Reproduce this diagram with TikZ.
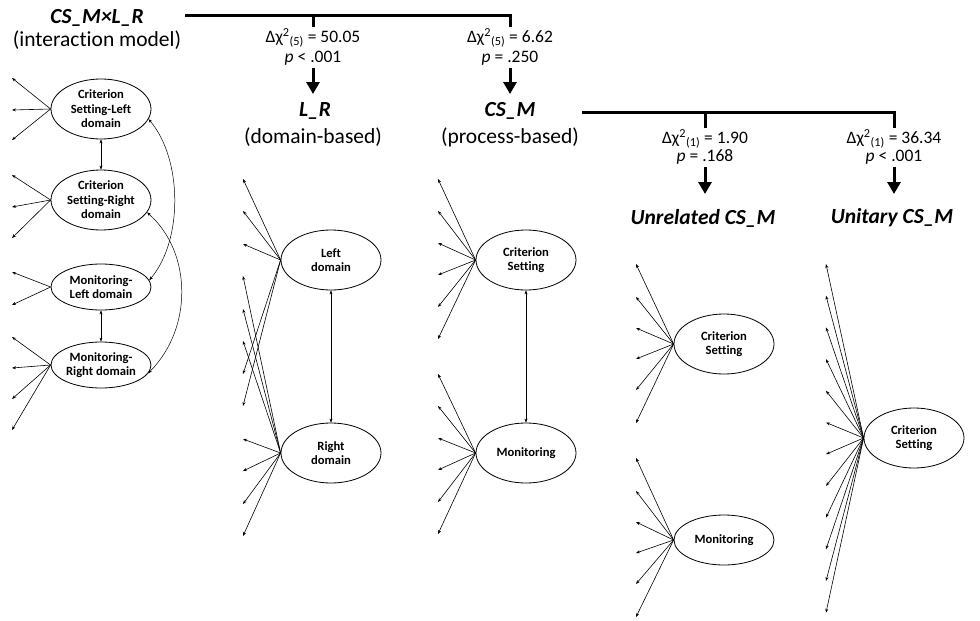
\documentclass[tikz,border=0pt]{standalone}
\usepackage{fontspec}
\setmainfont{Carlito}[Ligatures=NoCommon]
\usetikzlibrary{arrows.meta, positioning, shapes.geometric}

\begin{document}
\begin{tikzpicture}[
    x=1pt, y=-1pt,
    latent/.style={draw, ellipse, line width=0.8pt, minimum width=100pt,
                   minimum height=60pt, inner sep=-1pt, align=center,
                   font=\fontsize{12.6}{14.5}\selectfont\bfseries},
    indicator/.style={-{Stealth[length=4pt, width=3pt]}, line width=0.6pt},
    cov/.style={{Stealth[length=4pt, width=3pt]}-{Stealth[length=4pt, width=3pt]},
                line width=0.5pt},
    bar/.style={line width=3pt, line join=miter},
    arrow/.style={-{Triangle[length=12pt, width=13pt]}, line width=3pt},
    model/.style={font=\fontsize{21.5}{24}\selectfont\bfseries\itshape},
    modelsub/.style={font=\fontsize{21.5}{24}\selectfont},
    stat/.style={font=\fontsize{17.5}{20}\selectfont, inner sep=0pt},
  ]
    \useasboundingbox (0,0) rectangle (980,621);

    % Interaction model
    \node[model] (int) at (97,18) {CS\_M×L\_R};
    \node[modelsub] (intsub) at (97,40) {(interaction model)};

    \node[latent] (csl) at (101,109) {Criterion\\Setting-Left\\domain};
    \node[latent] (csr) at (101,200) {Criterion\\Setting-Right\\domain};
    \node[latent, minimum height=46pt] (ml) at (101,287) {Monitoring-\\Left domain};
    \node[latent, minimum height=46pt] (mr) at (101,365) {Monitoring-\\Right domain};

    \foreach \y [count=\i] in {78,110,140} {
      \coordinate (csl-\i) at (12,\y);
      \draw[indicator] (csl.west) -- (csl-\i);
    }
    \foreach \y [count=\i] in {175,207,238} {
      \coordinate (csr-\i) at (12,\y);
      \draw[indicator] (csr.west) -- (csr-\i);
    }
    \foreach \y [count=\i] in {272,305} {
      \coordinate (ml-\i) at (12,\y);
      \draw[indicator] (ml.west) -- (ml-\i);
    }
    \foreach \y [count=\i] in {337,368,399,430} {
      \coordinate (mr-\i) at (12,\y);
      \draw[indicator] (mr.west) -- (mr-\i);
    }

    \draw[cov] (csl.south) -- (csr.north);
    \draw[cov] (ml.south) -- (mr.north);
    \draw[cov] (csl.-12) .. controls +(34,40) and +(34,-40) .. (ml.8);
    \draw[cov] (csr.-15) .. controls +(45,40) and +(45,-45) .. (mr.-10);

    % First comparison
    \coordinate (b1s) at (185,15);
    \coordinate (b1m) at (313,15);
    \coordinate (b1e) at (510,15);
    \coordinate (t1a) at (313,27);
    \coordinate (t1b) at (510,27);
    \draw[bar] (b1s) -- (b1e) -- (t1b);
    \draw[bar] (b1m) -- (t1a);

    \node[stat] (d1) at (313,38) {Δχ\textsuperscript{2}\textsubscript{(5)} = 50.05};
    \node[stat] (p1) at (313,58) {\textit{p} < .001};
    \node[stat] (d2) at (510,38) {Δχ\textsuperscript{2}\textsubscript{(5)} = 6.62};
    \node[stat] (p2) at (510,58) {\textit{p} = .250};

    \coordinate (a1s) at (313,68);
    \coordinate (a1e) at (313,94);
    \coordinate (a2s) at (510,68);
    \coordinate (a2e) at (510,94);
    \draw[arrow] (a1s) -- (a1e);
    \draw[arrow] (a2s) -- (a2e);

    % L_R model
    \node[model] (lr) at (315,111) {L\_R};
    \node[modelsub] (lrsub) at (313,137) {(domain-based)};

    \node[latent] (left) at (331,260) {Left\\domain};
    \node[latent] (right) at (331,453) {Right\\domain};
    \foreach \y [count=\i] in {179,211,244,374,406} {
      \coordinate (left-\i) at (243,\y);
      \draw[indicator] (left.west) -- (left-\i);
    }
    \foreach \y [count=\i] in {276,309,341,439,471,504,536} {
      \coordinate (right-\i) at (243,\y);
      \draw[indicator] (right.west) -- (right-\i);
    }
    \draw[cov] (left.south) -- (right.north);

    % CS_M model
    \node[model] (csm) at (510,111) {CS\_M};
    \node[modelsub] (csmsub) at (510,137) {(process-based)};

    \node[latent] (cs) at (526,260) {Criterion\\Setting};
    \node[latent] (mon) at (526,453) {Monitoring};
    \foreach \y [count=\i] in {179,211,243,275,307,339} {
      \coordinate (cs-\i) at (438,\y);
      \draw[indicator] (cs.west) -- (cs-\i);
    }
    \foreach \y [count=\i] in {374,406,438,470,502,534} {
      \coordinate (mon-\i) at (438,\y);
      \draw[indicator] (mon.west) -- (mon-\i);
    }
    \draw[cov] (cs.south) -- (mon.north);

    % Second comparison
    \coordinate (b2s) at (582,112);
    \coordinate (b2m) at (705,112);
    \coordinate (b2e) at (894,112);
    \coordinate (t2a) at (705,128);
    \coordinate (t2b) at (894,128);
    \draw[bar] (b2s) -- (b2e) -- (t2b);
    \draw[bar] (b2m) -- (t2a);

    \node[stat] (d3) at (705,139) {Δχ\textsuperscript{2}\textsubscript{(1)} = 1.90};
    \node[stat] (p3) at (705,157) {\textit{p} = .168};
    \node[stat] (d4) at (894,139) {Δχ\textsuperscript{2}\textsubscript{(1)} = 36.34};
    \node[stat] (p4) at (894,157) {\textit{p} < .001};

    \coordinate (a3s) at (705,167);
    \coordinate (a3e) at (705,194);
    \coordinate (a4s) at (894,167);
    \coordinate (a4e) at (894,194);
    \draw[arrow] (a3s) -- (a3e);
    \draw[arrow] (a4s) -- (a4e);

    % Unrelated CS_M
    \node[model] (unrel) at (703,218) {Unrelated CS\_M};

    \node[latent] (ucs) at (724,344) {Criterion\\Setting};
    \node[latent, minimum height=50pt] (umon) at (724,540) {Monitoring};
    \foreach \y [count=\i] in {264,297,328,359,390,423} {
      \coordinate (ucs-\i) at (636,\y);
      \draw[indicator] (ucs.west) -- (ucs-\i);
    }
    \foreach \y [count=\i] in {458,491,522,553,584,617} {
      \coordinate (umon-\i) at (636,\y);
      \draw[indicator] (umon.west) -- (umon-\i);
    }

    % Unitary CS_M
    \node[model] (unit) at (892,218) {Unitary CS\_M};

    \node[latent] (tcs) at (914,438) {Criterion\\Setting};
    \foreach \k in {0,...,11} {
      \coordinate (tcs-\k) at (826,264+31.7*\k);
      \draw[indicator] (tcs.west) -- (tcs-\k);
    }
\end{tikzpicture}
\end{document}
